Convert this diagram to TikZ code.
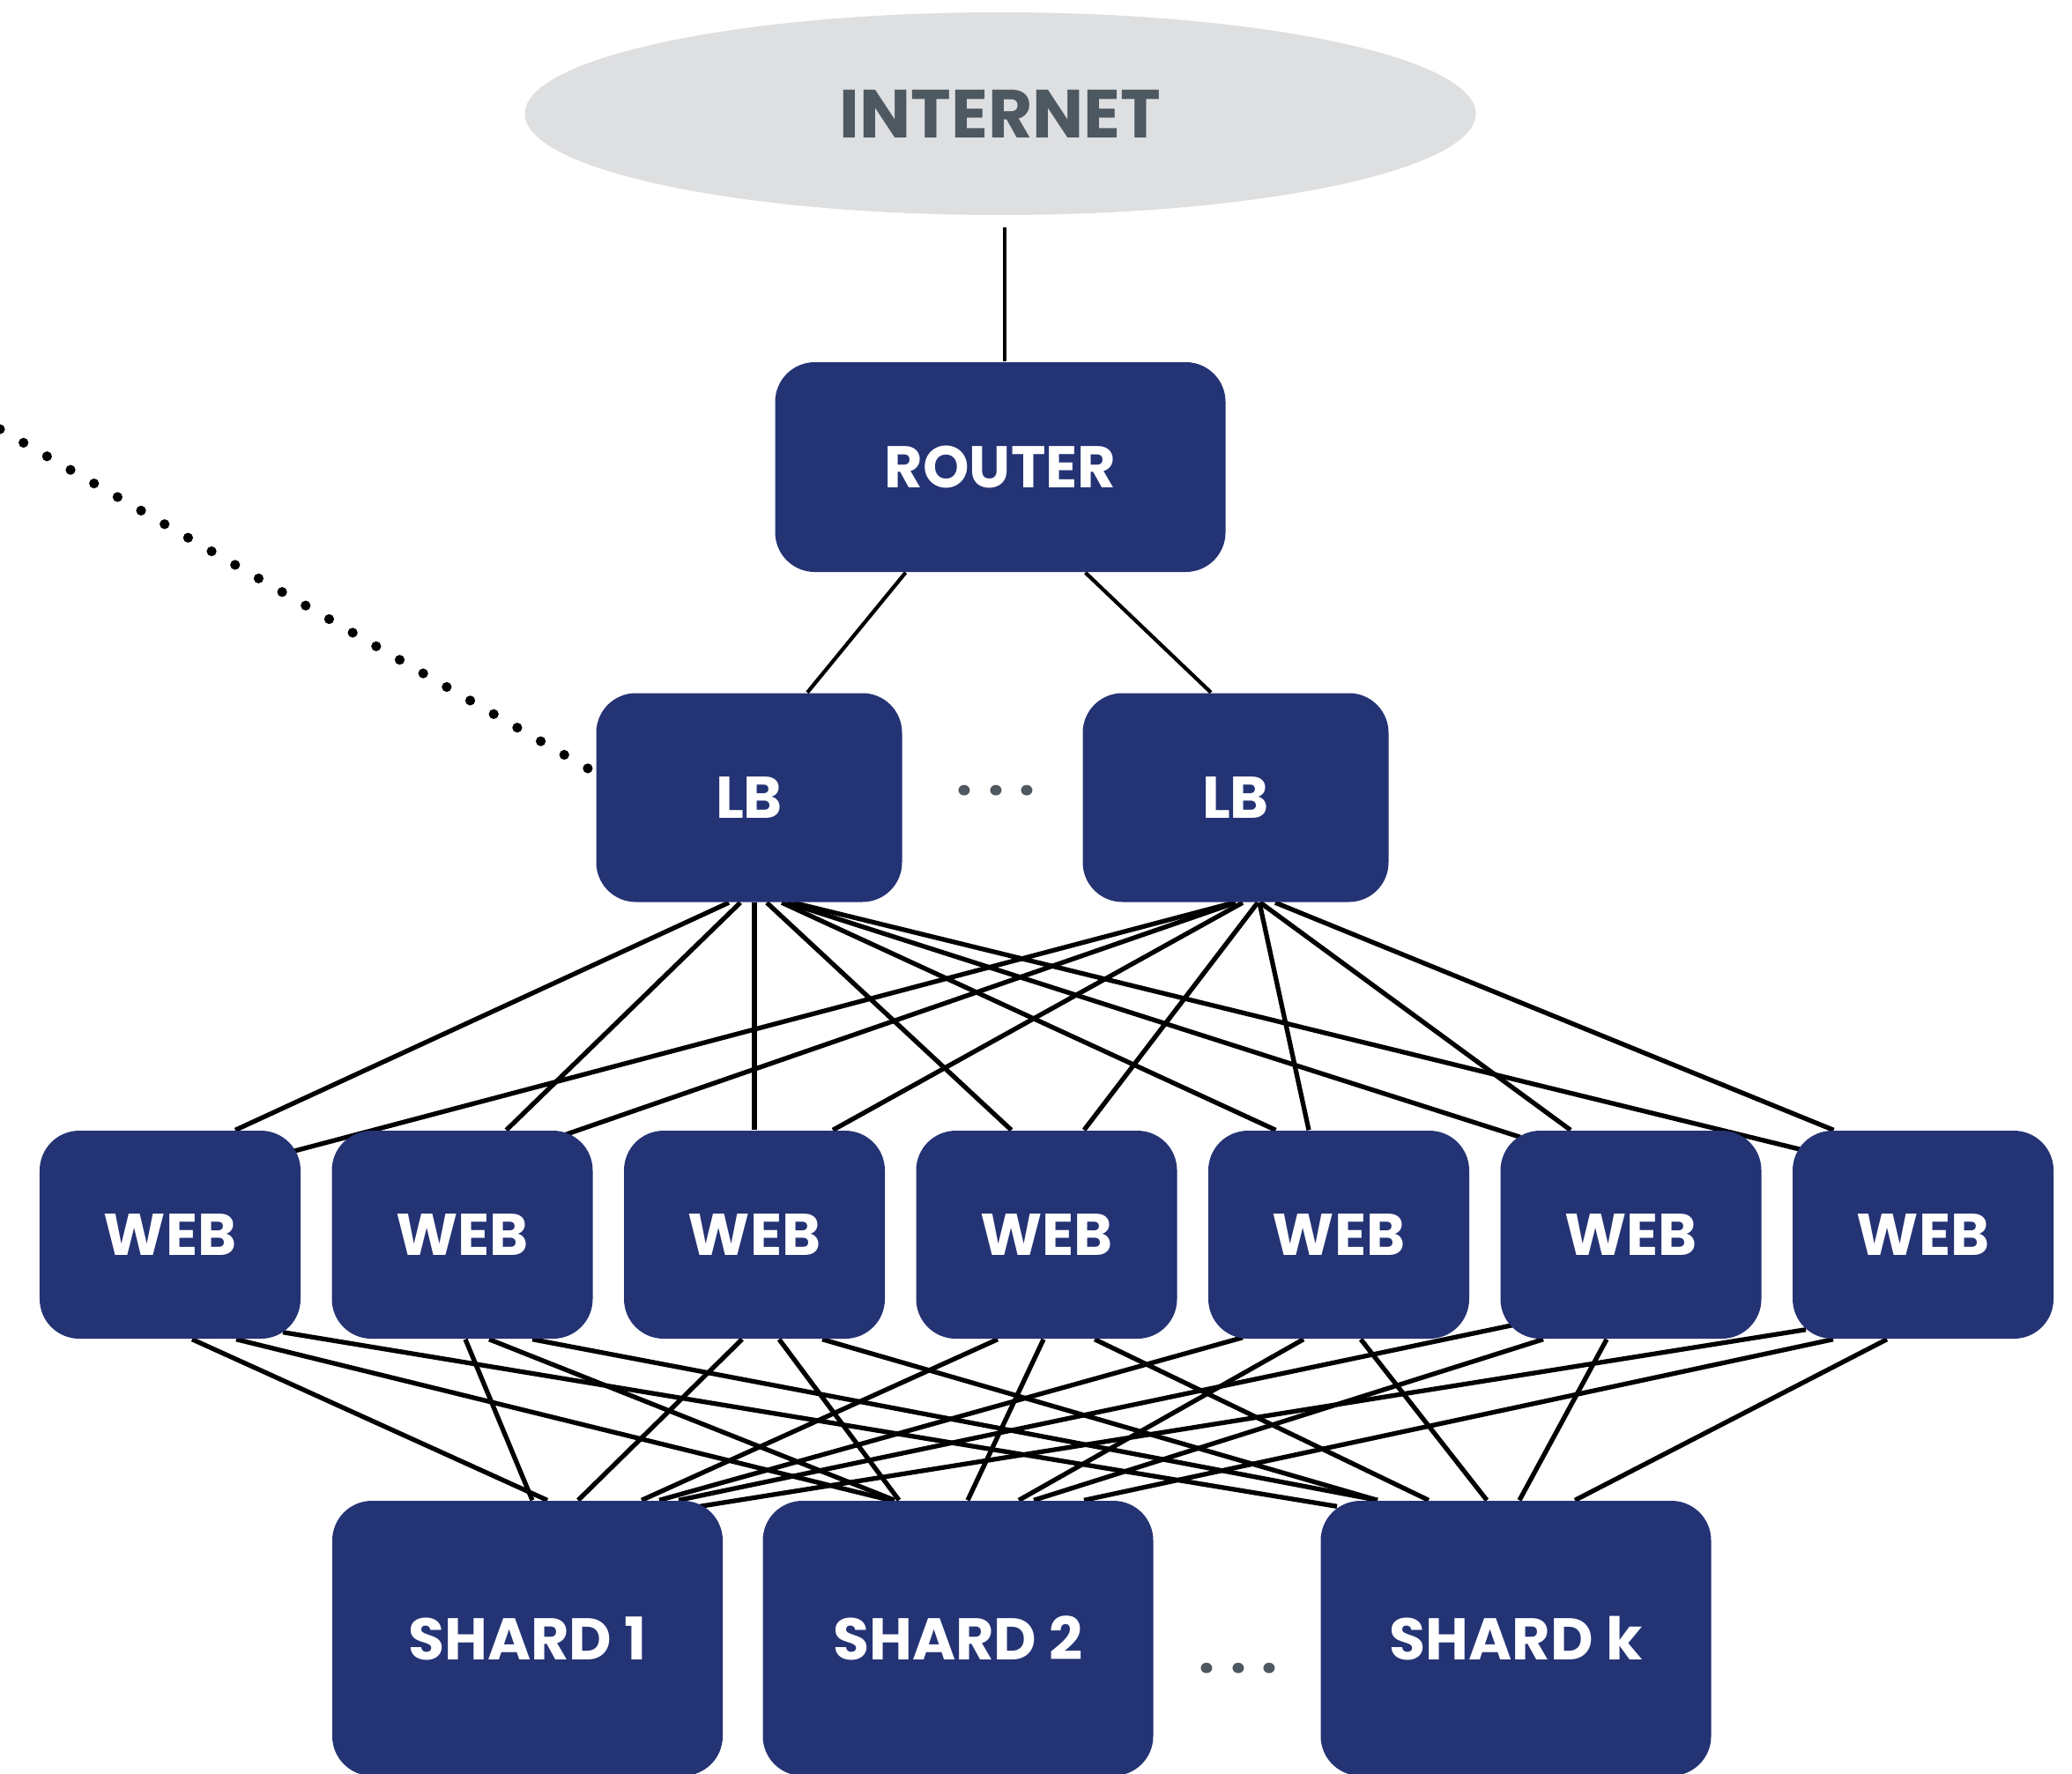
\documentclass[tikz,border=0pt]{standalone}
\usepackage{fontspec}
\setmainfont{Poppins}
\usetikzlibrary{shapes.geometric}
\pgfdeclarelayer{background}
\pgfsetlayers{background,main}
\definecolor{navy}{HTML}{243374}
\definecolor{cloudgray}{HTML}{DEDFE1}
\definecolor{textgray}{HTML}{4E5861}

\begin{document}
\begin{tikzpicture}[x=1cm, y=1cm]
    \tikzstyle{box} = [rectangle, rounded corners=0.45cm, fill=navy, text=white, inner sep=0pt, font=\bfseries\fontsize{19}{23}\selectfont]
    \tikzstyle{lbbox} = [box, minimum width=3.47cm, minimum height=2.37cm]
    \tikzstyle{webbox} = [box, minimum width=2.96cm, minimum height=2.36cm]
    \tikzstyle{shardbox} = [box, minimum width=4.43cm, minimum height=3.12cm]
    \tikzstyle{gapdots} = [text=textgray, inner sep=0pt, font=\bfseries\fontsize{18}{22}\selectfont]
    \tikzstyle{link} = [line width=1.5pt, black]
    \tikzstyle{uplink} = [line width=1.2pt, black]
    \tikzstyle{dotline} = [line width=3.2pt, line cap=round, dash pattern=on 0pt off 0.308cm]
    \useasboundingbox (0,0) rectangle (23.51,-20.12);

    \node[ellipse, fill=cloudgray, minimum width=10.79cm, minimum height=2.30cm, text=textgray, font=\bfseries\fontsize{22}{26}\selectfont] (internet) at (11.35,-1.29) {INTERNET};
    \node[box, minimum width=5.11cm, minimum height=2.38cm] (router) at (11.35,-5.30) {ROUTER};
    \node[lbbox] (lbA) at (8.50,-9.05) {LB};
    \node[lbbox] (lbB) at (14.02,-9.05) {LB};
    \node[gapdots] (lbdots) at (11.30,-8.97) {. . .};

    \node[webbox] (web1) at (1.93,-14.01) {WEB};
    \node[webbox] (web2) at (5.245,-14.01) {WEB};
    \node[webbox] (web3) at (8.56,-14.01) {WEB};
    \node[webbox] (web4) at (11.875,-14.01) {WEB};
    \node[webbox] (web5) at (15.19,-14.01) {WEB};
    \node[webbox] (web6) at (18.505,-14.01) {WEB};
    \node[webbox] (web7) at (21.82,-14.01) {WEB};

    \node[shardbox] (shard1) at (5.985,-18.59) {SHARD 1};
    \node[shardbox] (shard2) at (10.87,-18.59) {SHARD 2};
    \node[shardbox] (shardk) at (17.20,-18.59) {SHARD k};
    \node[gapdots] (sharddots) at (14.05,-18.93) {. . .};

    \coordinate (offpage) at (0,-4.87);

    \begin{pgfonlayer}{background}
    \draw[uplink] ([xshift=0.05cm, yshift=-0.13cm]internet.south) -- ([xshift=0.05cm]router.north);
    \draw[uplink] ([xshift=-1.075cm]router.south) -- ([xshift=0.66cm]lbA.north);
    \draw[uplink] ([xshift=0.965cm]router.south) -- ([xshift=-0.28cm]lbB.north);
    \draw[dotline] (offpage) -- ([yshift=0.28cm]lbA.west);

    \draw[link] ([xshift=-0.23cm]lbA.south) -- ([xshift=0.74cm]web1.north);
    \draw[link] ([xshift=-0.10cm]lbA.south) -- ([xshift=0.50cm]web2.north);
    \draw[link] ([xshift=0.06cm]lbA.south) -- (web3.north);
    \draw[link] ([xshift=0.20cm]lbA.south) -- ([xshift=-0.40cm]web4.north);
    \draw[link] ([xshift=0.37cm]lbA.south) -- ([xshift=-0.715cm]web5.north);
    \draw[link] ([xshift=0.43cm]lbA.south) -- ([xshift=-1.255cm, yshift=-0.08cm]web6.north);
    \draw[link] ([xshift=0.50cm]lbA.south) -- ([xshift=-1.39cm, yshift=-0.22cm]web7.north);

    \draw[link] ([xshift=-0.02cm]lbB.south) -- ([xshift=1.40cm, yshift=-0.24cm]web1.north);
    \draw[link] (lbB.south) -- ([xshift=1.175cm, yshift=-0.05cm]web2.north);
    \draw[link] ([xshift=0.08cm]lbB.south) -- ([xshift=0.89cm]web3.north);
    \draw[link] ([xshift=0.25cm]lbB.south) -- ([xshift=0.425cm]web4.north);
    \draw[link] ([xshift=0.27cm]lbB.south) -- ([xshift=-0.34cm]web5.north);
    \draw[link] ([xshift=0.28cm]lbB.south) -- ([xshift=-0.685cm]web6.north);
    \draw[link] ([xshift=0.45cm]lbB.south) -- ([xshift=-1.015cm]web7.north);

    \draw[link] ([xshift=0.25cm]web1.south) -- ([xshift=0.225cm]shard1.north);
    \draw[link] ([xshift=0.75cm]web1.south) -- ([xshift=-0.77cm]shard2.north);
    \draw[link] ([xshift=1.28cm, yshift=0.08cm]web1.south) -- ([xshift=-2.03cm, yshift=-0.07cm]shardk.north);
    \draw[link] ([xshift=0.035cm]web2.south) -- ([xshift=0.055cm]shard1.north);
    \draw[link] ([xshift=0.305cm]web2.south) -- ([xshift=-0.72cm]shard2.north);
    \draw[link] ([xshift=0.795cm]web2.south) -- ([xshift=-1.57cm]shardk.north);
    \draw[link] ([xshift=-0.14cm]web3.south) -- ([xshift=0.575cm]shard1.north);
    \draw[link] ([xshift=0.28cm]web3.south) -- ([xshift=-0.67cm]shard2.north);
    \draw[link] ([xshift=0.77cm]web3.south) -- ([xshift=-1.57cm]shardk.north);
    \draw[link] ([xshift=-0.555cm]web4.south) -- ([xshift=1.295cm]shard1.north);
    \draw[link] ([xshift=-0.035cm]web4.south) -- ([xshift=0.11cm]shard2.north);
    \draw[link] ([xshift=0.545cm]web4.south) -- ([xshift=-0.99cm]shardk.north);
    \draw[link] ([xshift=-1.09cm, yshift=0.02cm]web5.south) -- ([xshift=1.495cm]shard1.north);
    \draw[link] ([xshift=-0.40cm]web5.south) -- ([xshift=0.69cm]shard2.north);
    \draw[link] ([xshift=0.25cm]web5.south) -- ([xshift=-0.33cm]shardk.north);
    \draw[link] ([xshift=-1.345cm, yshift=0.16cm]web6.south) -- ([xshift=1.715cm]shard1.north);
    \draw[link] ([xshift=-0.995cm]web6.south) -- ([xshift=0.86cm]shard2.north);
    \draw[link] ([xshift=-0.275cm]web6.south) -- ([xshift=0.04cm]shardk.north);
    \draw[link] ([xshift=-1.33cm, yshift=0.11cm]web7.south) -- ([xshift=1.955cm, yshift=-0.07cm]shard1.north);
    \draw[link] ([xshift=-1.02cm]web7.south) -- ([xshift=1.43cm]shard2.north);
    \draw[link] ([xshift=-0.41cm]web7.south) -- ([xshift=0.67cm]shardk.north);
    \end{pgfonlayer}
\end{tikzpicture}
\end{document}
